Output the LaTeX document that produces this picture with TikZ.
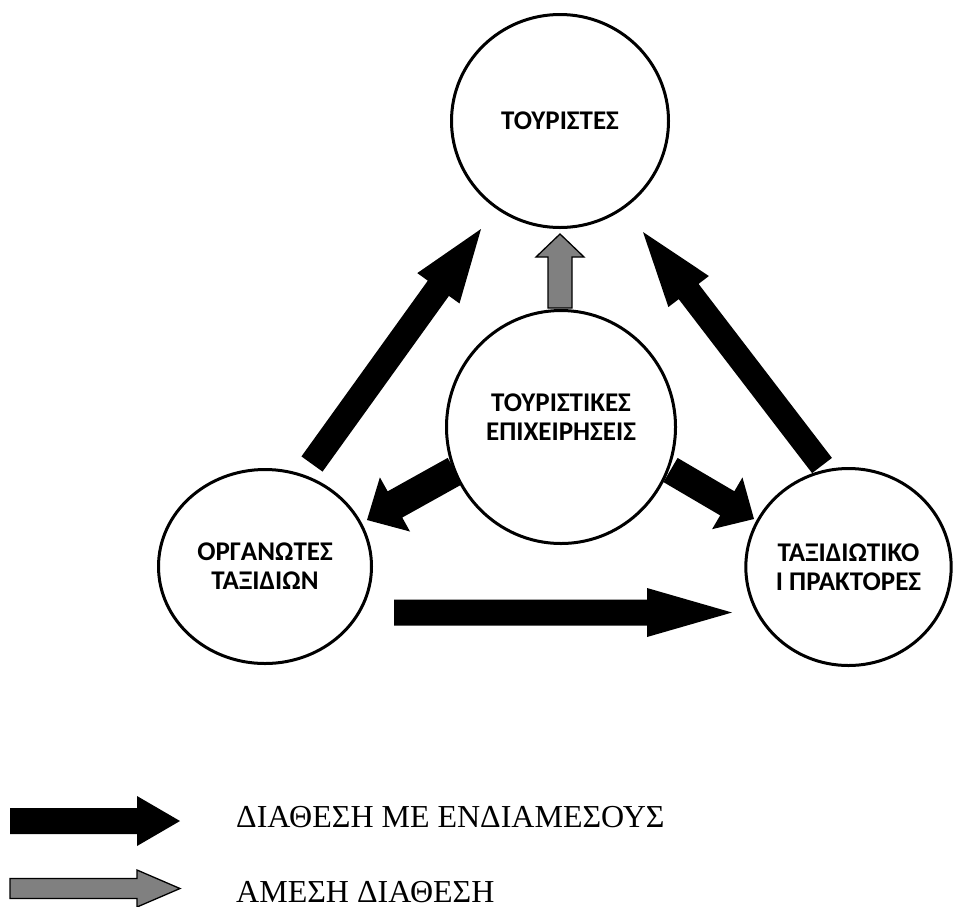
\documentclass[tikz,border=0pt]{standalone}
\usepackage{fontspec}
\setmainfont{Liberation Serif}
\newfontfamily\calib{Carlito}
\usetikzlibrary{calc,shapes.geometric}
\definecolor{arrgrey}{HTML}{808080}
% block arrow: [style] tail, tip, half shaft, half head, head length
\newcommand{\fatarrow}[6][]{%
  \coordinate (neck) at ($(#3)!#6!(#2)$);
  \path[#1] ($(#2)!#4!90:(#3)$) -- ($(neck)!#4!90:(#3)$) -- ($(neck)!#5!90:(#3)$) -- (#3)
    -- ($(neck)!#5!-90:(#3)$) -- ($(neck)!#4!-90:(#3)$) -- ($(#2)!#4!-90:(#3)$) -- cycle;}

\begin{document}
\begin{tikzpicture}[x=1pt,y=-1pt,
    bubble/.style={ellipse,draw,line width=3pt,inner sep=0pt,align=center,font=\calib\bfseries\fontsize{27}{29}\selectfont},
    bubtext/.style={inner sep=0pt,align=center,font=\calib\bfseries\fontsize{27}{29}\selectfont},
    blackarr/.style={fill=black},
    greyarr/.style={fill=arrgrey,draw=black,line width=1.3pt,line join=miter},
    legtext/.style={anchor=base west,inner sep=0pt,text depth=0pt,font=\fontsize{32}{36}\selectfont}]
  \useasboundingbox (0,0) rectangle (955,906);
  % the four actors
  \node[bubble,minimum width=217pt,minimum height=213pt] (tour) at (560,121) {ΤΟΥΡΙΣΤΕΣ};
  \node[bubble,minimum width=229pt,minimum height=233pt] (biz) at (561,427) {};
  \node[bubtext] (biztxt) at ($(biz)+(0,-9.5)$) {ΤΟΥΡΙΣΤΙΚΕΣ\\ΕΠΙΧΕΙΡΗΣΕΙΣ};
  \node[bubble,minimum width=213pt,minimum height=194pt] (orgs) at (265,566.5) {ΟΡΓΑΝΩΤΕΣ\\ΤΑΞΙΔΙΩΝ};
  \node[bubble,minimum width=204pt,minimum height=197pt] (agents) at (848.5,567) {ΤΑΞΙΔΙΩΤΙΚΟ\\Ι ΠΡΑΚΤΟΡΕΣ};
  % arrow ends
  \coordinate (orgsout) at (312,464);
  \coordinate (tourinl) at (481,229);
  \coordinate (agentsout) at (822,465.5);
  \coordinate (tourinr) at (643,232);
  \coordinate (bizup) at (560,308);
  \coordinate (tourinc) at (560,234);
  \coordinate (bizoutl) at (455,471);
  \coordinate (orgsin) at (367,520);
  \coordinate (bizoutr) at (670.5,470);
  \coordinate (agentsinl) at (754,519);
  \coordinate (orgsoutb) at (394,612.5);
  \coordinate (agentsinb) at (732,612.5);
  \fatarrow[blackarr]{orgsout}{tourinl}{13pt}{26pt}{73pt}
  \fatarrow[blackarr]{agentsout}{tourinr}{12.5pt}{25.5pt}{75pt}
  \fatarrow[greyarr]{bizup}{tourinc}{12pt}{24pt}{23pt}
  \fatarrow[blackarr]{bizoutl}{orgsin}{15pt}{31pt}{32pt}
  \fatarrow[blackarr]{bizoutr}{agentsinl}{14pt}{30pt}{31pt}
  \fatarrow[blackarr]{orgsoutb}{agentsinb}{13pt}{24.5pt}{85pt}
  % legend
  \coordinate (keyblack0) at (10,821);
  \coordinate (keyblack1) at (180,821);
  \coordinate (keygrey0) at (10,888.5);
  \coordinate (keygrey1) at (180,888.5);
  \fatarrow[blackarr]{keyblack0}{keyblack1}{13pt}{25pt}{43pt}
  \fatarrow[greyarr]{keygrey0}{keygrey1}{10pt}{18.5pt}{43pt}
  \node[legtext] (keyind) at (236,827) {ΔΙΑΘΕΣΗ ΜΕ ΕΝΔΙΑΜΕΣΟΥΣ};
  \node[legtext] (keydir) at (236,902) {ΑΜΕΣΗ ΔΙΑΘΕΣΗ};
\end{tikzpicture}
\end{document}
